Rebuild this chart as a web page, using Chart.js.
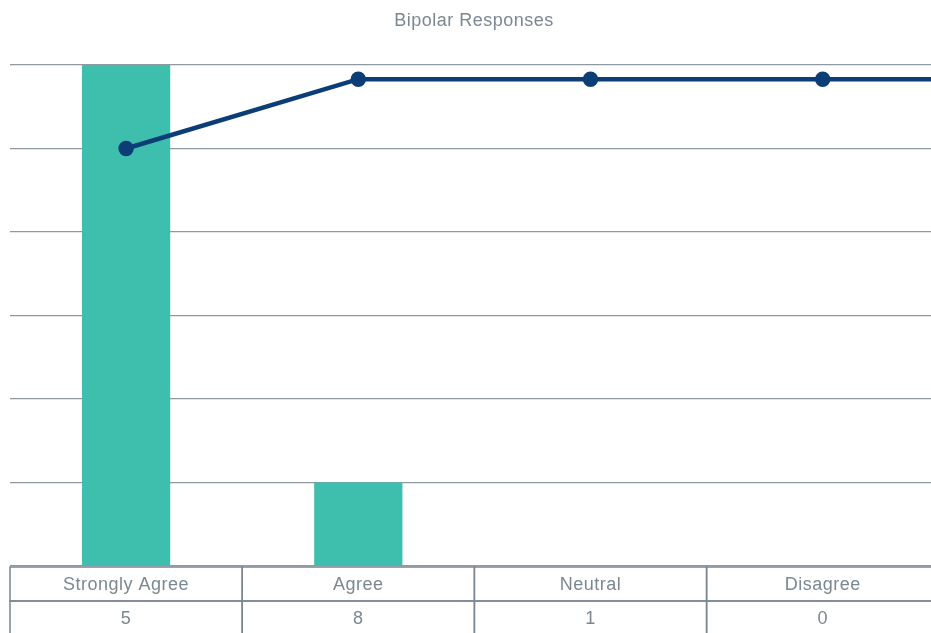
<!DOCTYPE html>
<html>
<head>
<meta charset="utf-8">
<script src="https://cdn.jsdelivr.net/npm/chart.js@4.4.1/dist/chart.umd.min.js"></script>
<style>
  html, body { margin: 0; padding: 0; background: #fff; overflow: hidden; }
  #wrap { position: relative; width: 1181px; height: 633px; }
  #titulo {
    position: absolute; left: 9px; width: 930px; top: 10px;
    text-align: center; color: #7b8792;
    font: 18px 'Liberation Sans', Arial, sans-serif; letter-spacing: 0.5px;
  }
</style>
</head>
<body>
<div id="wrap">
  <canvas id="grafica"></canvas>
  <div id="titulo">Bipolar Responses</div>
</div>
<script>
// categorias y valores (la quinta columna queda fuera de la ventana)
const categorias = ["Strongly Agree", "Agree", "Neutral", "Disagree", ""];
const barras = [6, 1, 0, 0, 0];
const linea = [5, 5.83, 5.83, 5.83, 5.83];
const valoresTabla = [5, 8, 1, 0];

const gris = "#7b8792";

// dibuja la tabla debajo del grafico
const tablaPlugin = {
    id: "tabla",
    afterDraw(chart) {
        const ctx = chart.ctx;
        const x = chart.scales.x;
        const area = chart.chartArea;
        const ancho = x.getPixelForValue(1) - x.getPixelForValue(0);
        const top = area.bottom + 1;
        const fila = 34;
        ctx.save();
        ctx.strokeStyle = gris;
        ctx.lineWidth = 1.5;
        ctx.fillStyle = gris;
        ctx.font = "18px 'Liberation Sans', Arial, sans-serif";
        ctx.letterSpacing = "0.5px";
        ctx.textAlign = "center";
        ctx.textBaseline = "middle";
        for (let i = 0; i < valoresTabla.length; i++) {
            const c = x.getPixelForValue(i);
            const l = c - ancho / 2;
            ctx.strokeRect(l, top, ancho, fila);
            ctx.strokeRect(l, top + fila, ancho, fila + 10);
            ctx.fillText(categorias[i], c, top + fila / 2 + 1);
            ctx.fillText(String(valoresTabla[i]), c, top + fila + 18);
        }
        ctx.restore();
    }
};

new Chart(document.getElementById("grafica"), {
    type: "bar",
    data: {
        labels: categorias,
        datasets: [{
            type: "line",
            data: linea,
            borderColor: "#0b3d76",
            backgroundColor: "#0b3d76",
            borderWidth: 4.5,
            pointRadius: 5.5,
            pointHoverRadius: 5.5,
            tension: 0,
            order: 0
        }, {
            type: "bar",
            data: barras,
            backgroundColor: "#3ebfae",
            barPercentage: 0.38,
            categoryPercentage: 1,
            order: 1
        }]
    },
    options: {
        responsive: true,
        maintainAspectRatio: false,
        animation: false,
        layout: { padding: { left: 9, right: 0, top: 65, bottom: 59 } },
        plugins: {
            legend: { display: false },
            tooltip: { enabled: false },
            title: { display: false }
        },
        scales: {
            x: {
                ticks: { display: false },
                grid: { display: false },
                border: { display: false }
            },
            y: {
                min: 0,
                max: 6,
                ticks: { display: false, stepSize: 1 },
                grid: { color: "#8f99a2", lineWidth: 1.2, drawTicks: false },
                border: { display: false }
            }
        }
    },
    plugins: [tablaPlugin]
});
</script>
</body>
</html>
